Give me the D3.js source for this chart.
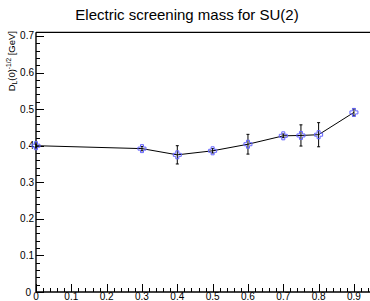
<!DOCTYPE html>
<html>
<head>
<meta charset="utf-8">
<script src="https://cdn.jsdelivr.net/npm/d3@7"></script>
<style>
  body { margin: 0; background: #fff; }
  text { font-family: "Liberation Sans", Arial, sans-serif; }
</style>
</head>
<body>
<div id="chart"></div>
<script>
// data
var xValues = [0.0, 0.3, 0.4, 0.5, 0.6, 0.7, 0.75, 0.8, 0.9];
var yValues = [0.400, 0.392, 0.375, 0.386, 0.404, 0.427, 0.428, 0.430, 0.491];
var yErrors = [0.004, 0.006, 0.025, 0.006, 0.027, 0.005, 0.029, 0.033, 0.010];
var xTicks = [0, 0.1, 0.2, 0.3, 0.4, 0.5, 0.6, 0.7, 0.8, 0.9];
var yTicks = [0, 0.1, 0.2, 0.3, 0.4, 0.5, 0.6, 0.7];

var W = 370, H = 301;
var svg = d3.select("#chart").append("svg")
    .attr("width", W)
    .attr("height", H);

var x = d3.scaleLinear().domain([0, 0.95]).range([36, 371.6]);
var y = d3.scaleLinear().domain([0, 0.71]).range([292, 32.3]);

var points = xValues.map(function(d, i) { return {x: d, y: yValues[i], e: yErrors[i]}; });

// title
svg.append("text")
    .attr("x", 187)
    .attr("y", 20)
    .attr("text-anchor", "middle")
    .style("font-size", "15px")
    .text("Electric screening mass for SU(2)");

// frame: top line
svg.append("line")
    .attr("x1", x(0)).attr("x2", W)
    .attr("y1", y(0.71)).attr("y2", y(0.71))
    .attr("stroke", "black").attr("stroke-width", 1.2);

// minor ticks
var yMinor = d3.range(0, 0.71, 0.02);
var xMinor = d3.range(0, 0.95, 0.02);

svg.append("g").selectAll("line")
  .data(yMinor)
  .enter().append("line")
    .attr("x1", x(0)).attr("x2", function(d, i) { return x(0) + (i % 5 == 0 ? 8 : 4); })
    .attr("y1", function(d) { return Math.round(y(d)) + 0.5; })
    .attr("y2", function(d) { return Math.round(y(d)) + 0.5; })
    .attr("stroke", "black");

svg.append("g").selectAll("line")
  .data(xMinor)
  .enter().append("line")
    .attr("y1", y(0)).attr("y2", function(d, i) { return y(0) - (i % 5 == 0 ? 8 : 4); })
    .attr("x1", function(d) { return Math.round(x(d)) + 0.5; })
    .attr("x2", function(d) { return Math.round(x(d)) + 0.5; })
    .attr("stroke", "black");

// axis lines
svg.append("line")
    .attr("x1", x(0)).attr("x2", x(0))
    .attr("y1", y(0.71)).attr("y2", y(0))
    .attr("stroke", "black").attr("stroke-width", 1.4);
svg.append("line")
    .attr("x1", x(0)).attr("x2", W)
    .attr("y1", y(0)).attr("y2", y(0))
    .attr("stroke", "black").attr("stroke-width", 1.4);

// y tick labels
svg.append("g").selectAll("text")
  .data(yTicks)
  .enter().append("text")
    .attr("x", function(d) { return d == 0 ? 31 : 34; })
    .attr("y", function(d) { return y(d) + 3.5; })
    .attr("text-anchor", "end")
    .style("font-size", "10px")
    .text(function(d) { return d == 0 ? "0" : d3.format(".1f")(d); });

// x tick labels
svg.append("g").selectAll("text")
  .data(xTicks)
  .enter().append("text")
    .attr("x", function(d) { return x(d); })
    .attr("y", 300)
    .attr("text-anchor", "middle")
    .style("font-size", "10px")
    .text(function(d) { return d == 0 ? "0" : d3.format(".1f")(d); });

// y title
var yTitle = svg.append("text")
    .attr("transform", "translate(15,31) rotate(-90)")
    .attr("text-anchor", "end")
    .style("font-size", "9.5px");
yTitle.append("tspan").text("D");
yTitle.append("tspan").attr("dy", 2).style("font-size", "6.5px").text("L");
yTitle.append("tspan").attr("dy", -2).text("(0)");
yTitle.append("tspan").attr("dy", -4).style("font-size", "6.5px").text("-1/2");
yTitle.append("tspan").attr("dy", 4).text(" [GeV]");

// connecting line
var line = d3.line()
    .x(function(d) { return x(d.x); })
    .y(function(d) { return y(d.y); });

svg.append("path")
    .datum(points)
    .attr("d", line)
    .attr("fill", "none")
    .attr("stroke", "black")
    .attr("stroke-width", 1);

// error bars
var eb = svg.append("g").selectAll("g")
  .data(points)
  .enter().append("g");
eb.append("line")
    .attr("x1", function(d) { return x(d.x); })
    .attr("x2", function(d) { return x(d.x); })
    .attr("y1", function(d) { return y(d.y - d.e); })
    .attr("y2", function(d) { return y(d.y + d.e); })
    .attr("stroke", "black").attr("stroke-width", 1);
eb.selectAll("line.cap")
  .data(function(d) { return [d.y - d.e, d.y + d.e].map(function(v) { return {x: d.x, v: v}; }); })
  .enter().append("line")
    .attr("class", "cap")
    .attr("x1", function(d) { return x(d.x) - 1.5; })
    .attr("x2", function(d) { return x(d.x) + 1.5; })
    .attr("y1", function(d) { return y(d.v); })
    .attr("y2", function(d) { return y(d.v); })
    .attr("stroke", "black").attr("stroke-width", 1);

// open cross markers
var s = 1.5, r = 4;
function crossPath(cx, cy) {
  return "M" + (cx - s) + "," + (cy - r) + "H" + (cx + s) + "V" + (cy - s) + "H" + (cx + r) +
    "V" + (cy + s) + "H" + (cx + s) + "V" + (cy + r) + "H" + (cx - s) + "V" + (cy + s) +
    "H" + (cx - r) + "V" + (cy - s) + "H" + (cx - s) + "Z";
}
svg.append("g").selectAll("path")
  .data(points)
  .enter().append("path")
    .attr("d", function(d) { return crossPath(x(d.x), y(d.y)); })
    .attr("fill", "none")
    .attr("stroke", "#6464ff")
    .attr("stroke-width", 1);
</script>
</body>
</html>
